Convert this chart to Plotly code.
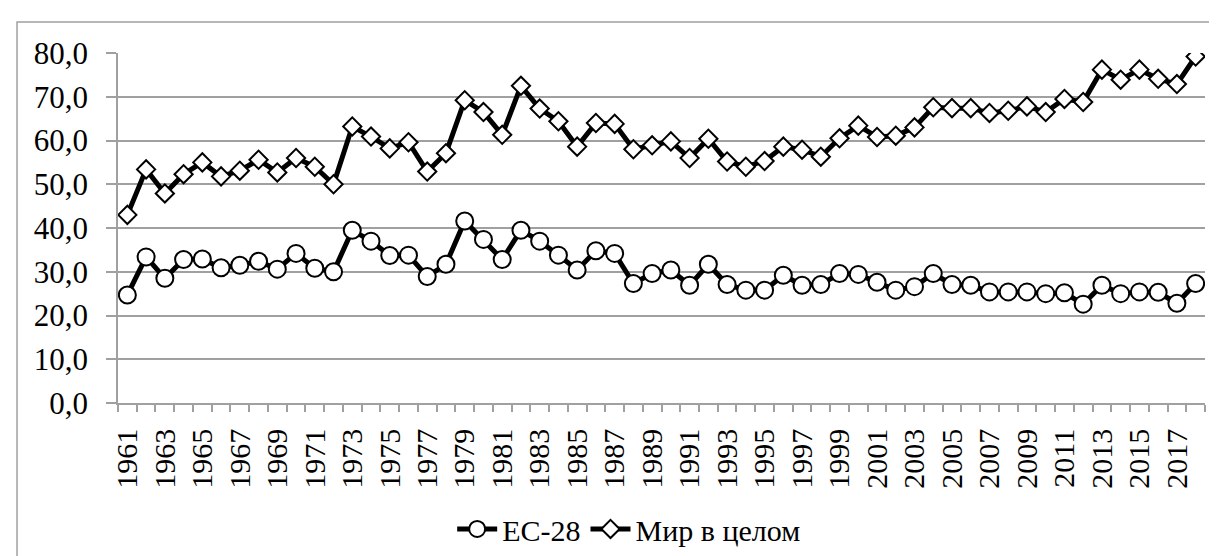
import plotly.graph_objects as go

years = list(range(1961, 2019))

eu28 = [
    24.7, 33.4, 28.5, 32.8, 32.9, 30.9, 31.5, 32.4, 30.6, 34.2,
    30.8, 30.0, 39.5, 37.0, 33.7, 33.8, 28.9, 31.7, 41.6, 37.4,
    32.8, 39.5, 37.0, 33.8, 30.4, 34.8, 34.2, 27.3, 29.6, 30.4,
    26.9, 31.7, 27.1, 25.8, 25.8, 29.2, 26.9, 27.1, 29.6, 29.4,
    27.6, 25.8, 26.6, 29.6, 27.1, 26.9, 25.4, 25.4, 25.4, 25.0,
    25.2, 22.6, 26.9, 25.0, 25.4, 25.3, 22.8, 27.3,
]

world = [
    43.0, 53.4, 47.9, 52.3, 55.0, 51.8, 53.1, 55.6, 52.7, 56.0,
    54.0, 50.0, 63.2, 60.9, 58.2, 59.6, 52.9, 57.1, 69.2, 66.5,
    61.3, 72.5, 67.3, 64.4, 58.6, 64.0, 63.8, 58.0, 58.9, 59.8,
    56.0, 60.4, 55.2, 54.0, 55.3, 58.6, 57.9, 56.3, 60.5, 63.4,
    60.8, 61.1, 63.0, 67.6, 67.4, 67.4, 66.3, 66.8, 67.8, 66.5,
    69.5, 68.8, 76.2, 73.9, 76.2, 74.1, 72.9, 79.2,
]

label_years = list(range(1961, 2018, 2))

FONT = "Liberation Serif"
GRID = "#a0a0a0"

fig = go.Figure()

fig.add_trace(go.Scatter(
    x=years, y=eu28, name="ЕС-28", mode="lines+markers",
    line=dict(color="black", width=5),
    marker=dict(symbol="circle", size=17, color="white",
                line=dict(color="black", width=2)),
))
fig.add_trace(go.Scatter(
    x=years, y=world, name="Мир в целом", mode="lines+markers",
    line=dict(color="black", width=5),
    marker=dict(symbol="diamond", size=14, color="white",
                line=dict(color="black", width=2)),
))

fig.update_layout(
    width=1217,
    height=556,
    margin=dict(l=110, r=20, t=45, b=161),
    paper_bgcolor="white",
    plot_bgcolor="white",
    separators=", ",
    font=dict(family=FONT, size=30, color="black"),
    showlegend=True,
    legend=dict(
        orientation="h",
        xref="container", yref="container",
        x=0.51, xanchor="center",
        y=0.063, yanchor="middle",
        font=dict(family=FONT, size=30),
        itemwidth=40,
    ),
    xaxis=dict(
        range=[1960.5, 2018.5],
        tickmode="array",
        tickvals=label_years,
        ticktext=[str(y) for y in label_years],
        tickangle=-90,
        ticks="",
        ticklabelstandoff=12,
        showgrid=False,
        zeroline=False,
        showline=True,
        linecolor=GRID,
        linewidth=1.5,
        minor=dict(ticks="outside", tick0=1960.5, dtick=1, ticklen=7,
                   tickcolor=GRID, tickwidth=1.5, showgrid=False),
        tickfont=dict(family=FONT, size=30),
    ),
    yaxis=dict(
        range=[0, 80],
        dtick=10,
        tickformat=".1f",
        ticks="outside",
        ticklen=10,
        tickcolor=GRID,
        tickwidth=1.5,
        ticklabelstandoff=12,
        showgrid=True,
        gridcolor=GRID,
        gridwidth=1.5,
        zeroline=False,
        showline=True,
        linecolor=GRID,
        linewidth=1.5,
        tickfont=dict(family=FONT, size=31),
    ),
    shapes=[
        dict(type="rect", xref="paper", yref="paper",
             x0=-0.0929, y0=-0.6, x1=1.2, y1=1.0886,
             line=dict(color=GRID, width=1.5), layer="below"),
    ],
)

fig.write_html("out.html")
